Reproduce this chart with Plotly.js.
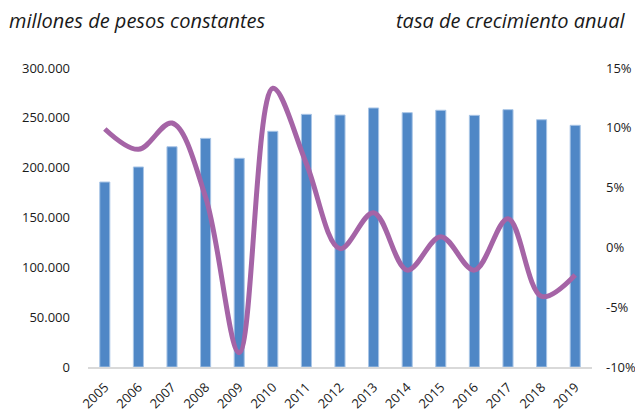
<!DOCTYPE html>
<html>
<head>
<meta charset="utf-8">
<script src="https://cdn.plot.ly/plotly-3.0.1.min.js"></script>
<style>html,body{margin:0;padding:0;background:#fff;}#chart{width:635px;height:412px;}</style>
</head>
<body>
<div id="chart"></div>
<script>
const years = ["2005","2006","2007","2008","2009","2010","2011","2012","2013","2014","2015","2016","2017","2018","2019"];
const pibValues = [185600, 200700, 221000, 229400, 209400, 236500, 253500, 252800, 259900, 255200, 257600, 252500, 258200, 248100, 242500];
const growthRate = [9.9, 8.2, 10.4, 4.2, -8.8, 13.3, 7.0, -0.1, 2.9, -1.9, 0.9, -1.9, 2.4, -4.1, -2.3];
const leftTicks = [0, 50000, 100000, 150000, 200000, 250000, 300000];
const rightTicks = [-10, -5, 0, 5, 10, 15];
const rightTickText = ["-10%", "-5%", "0%", "5%", "10%", "15%"];

const font = "Open Sans, sans-serif";
const data = [
  {
    type: "bar", x: years, y: pibValues, yaxis: "y",
    width: 0.3,
    marker: {color: "#4f87c6", line: {color: "#a9c5e6", width: 1}},
    hoverinfo: "x+y"
  },
  {
    type: "scatter", mode: "lines", x: years, y: growthRate, yaxis: "y2",
    line: {color: "#a564a6", width: 5, shape: "spline", smoothing: 1},
    hoverinfo: "x+y"
  }
];
const layout = {
  width: 635, height: 412,
  margin: {l: 88, r: 43, t: 68, b: 45},
  paper_bgcolor: "#fff", plot_bgcolor: "#fff",
  showlegend: false,
  separators: ",.",
  font: {family: font, size: 13, color: "#1a1a1a"},
  xaxis: {
    type: "category", tickangle: -45, automargin: false,
    showgrid: false, zeroline: false,
    showline: true, linecolor: "#d9d9d9", linewidth: 1.5,
    ticks: "", ticklabelstandoff: 6,
    tickfont: {family: font, size: 13, color: "#1a1a1a"}
  },
  yaxis: {
    range: [0, 300000], tickvals: leftTicks, tickformat: ",d",
    showgrid: false, zeroline: false, showline: false, automargin: false,
    ticks: "", ticklabelstandoff: 17,
    tickfont: {family: font, size: 13, color: "#1a1a1a"}
  },
  yaxis2: {
    overlaying: "y", side: "right", range: [-10, 15],
    tickmode: "array", tickvals: rightTicks, ticktext: rightTickText,
    showgrid: false, zeroline: false, showline: false, automargin: false,
    ticks: "", ticklabelstandoff: 13,
    tickfont: {family: font, size: 13, color: "#1a1a1a"}
  },
  annotations: [
    {text: "millones de pesos constantes", xref: "paper", yref: "paper", x: -0.16, y: 1.16, xanchor: "left", yanchor: "middle", showarrow: false,
     font: {family: font, size: 20, color: "#1a1a1a", style: "italic"}},
    {text: "tasa de crecimiento anual", xref: "paper", yref: "paper", x: 1.07, y: 1.16, xanchor: "right", yanchor: "middle", showarrow: false,
     font: {family: font, size: 20, color: "#1a1a1a", style: "italic"}}
  ]
};
Plotly.newPlot("chart", data, layout, {displayModeBar: false, staticPlot: true});
</script>
</body>
</html>
